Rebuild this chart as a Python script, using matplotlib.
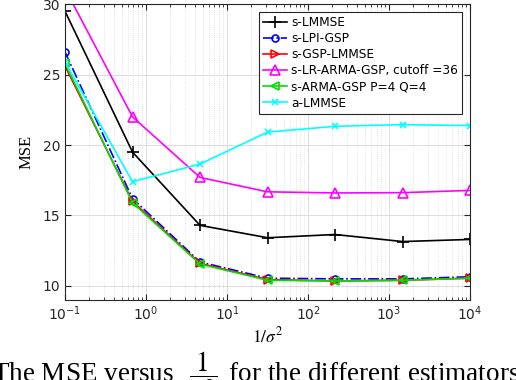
import numpy as np
import matplotlib.pyplot as plt
from matplotlib.ticker import LogLocator, NullFormatter

# x: 1/sigma^2, seven points evenly spaced in log from 1e-1 to 1e4
snr = [0.1, 0.681, 4.64, 31.6, 215, 1468, 10000]

s_lmmse = [29.5, 19.5, 14.3, 13.42, 13.65, 13.15, 13.3]
s_lpi_gsp = [26.6, 16.2, 11.7, 10.55, 10.5, 10.5, 10.65]
s_gsp_lmmse = [25.6, 16.0, 11.6, 10.45, 10.35, 10.4, 10.55]
s_lr_arma = [31.1, 22.0, 17.7, 16.68, 16.6, 16.62, 16.78]
s_arma = [25.8, 15.9, 11.55, 10.4, 10.35, 10.4, 10.55]
a_lmmse = [25.9, 17.4, 18.65, 20.92, 21.33, 21.45, 21.38]

labels = ['s-LMMSE', 's-LPI-GSP', 's-GSP-LMMSE',
          's-LR-ARMA-GSP, cutoff =36', 's-ARMA-GSP P=4 Q=4', 'a-LMMSE']

plt.rcParams['mathtext.fontset'] = 'stix'

fig = plt.figure(figsize=(5.16, 3.8), dpi=100)
ax = fig.add_axes([0.126, 0.2105, 0.785, 0.7785])

lw = 1.2
ax.plot(snr, s_lmmse, color='black', marker='+', ms=8, mew=1.2, lw=lw, label=labels[0])
ax.plot(snr, s_lpi_gsp, color='blue', marker='o', ms=5, mfc='none', mew=1.2, lw=lw,
        ls='-.', label=labels[1])
ax.plot(snr, s_gsp_lmmse, color='red', marker='>', ms=6, mfc='none', mew=1.2, lw=lw,
        label=labels[2])
ax.plot(snr, s_lr_arma, color='magenta', marker='^', ms=7, mfc='none', mew=1.2, lw=lw,
        label=labels[3])
ax.plot(snr, s_arma, color='#00e000', marker='<', ms=6, mfc='none', mew=1.2, lw=lw,
        label=labels[4])
ax.plot(snr, a_lmmse, color='cyan', marker='x', ms=5, mew=1.2, lw=lw, label=labels[5])

ax.set_xscale('log')
ax.set_xlim(0.1, 1e4)
ax.set_ylim(9, 30)
ax.set_yticks([10, 15, 20, 25, 30])
ax.xaxis.set_major_locator(LogLocator(base=10, numticks=10))
ax.xaxis.set_minor_locator(LogLocator(base=10, subs=np.arange(2, 10), numticks=50))
ax.xaxis.set_minor_formatter(NullFormatter())

ax.grid(True, which='major', color='#dcdcdc', lw=0.7)
ax.grid(True, which='minor', axis='x', color='#cccccc', lw=0.5, ls=(0, (1, 2)))
ax.tick_params(which='both', direction='in', top=True, right=True, labelsize=10,
               colors='#262626')
ax.tick_params(which='major', length=4)
ax.tick_params(which='minor', length=2)
for s in ax.spines.values():
    s.set_color('#262626')
    s.set_linewidth(0.8)

ax.set_xlabel(r'$1/\sigma^2$', fontsize=12.5, labelpad=2)
ax.set_ylabel('MSE', fontsize=12, family='Liberation Serif', labelpad=6)

leg = ax.legend(loc='upper right', bbox_to_anchor=(0.98, 0.973), borderaxespad=0,
                fontsize=8.7, fancybox=False, edgecolor='#262626', framealpha=1,
                handlelength=2.0, handletextpad=0.3, borderpad=0.35, labelspacing=0.25)
leg.get_frame().set_linewidth(0.8)

fig.text(-0.016, -0.004,
         r'The MSE versus $\ \,\dfrac{1}{\sigma^2}\,$ for the different estimators',
         fontsize=19.5, family='Liberation Serif', va='baseline', ha='left')

fig.savefig('out.png', dpi=100)
